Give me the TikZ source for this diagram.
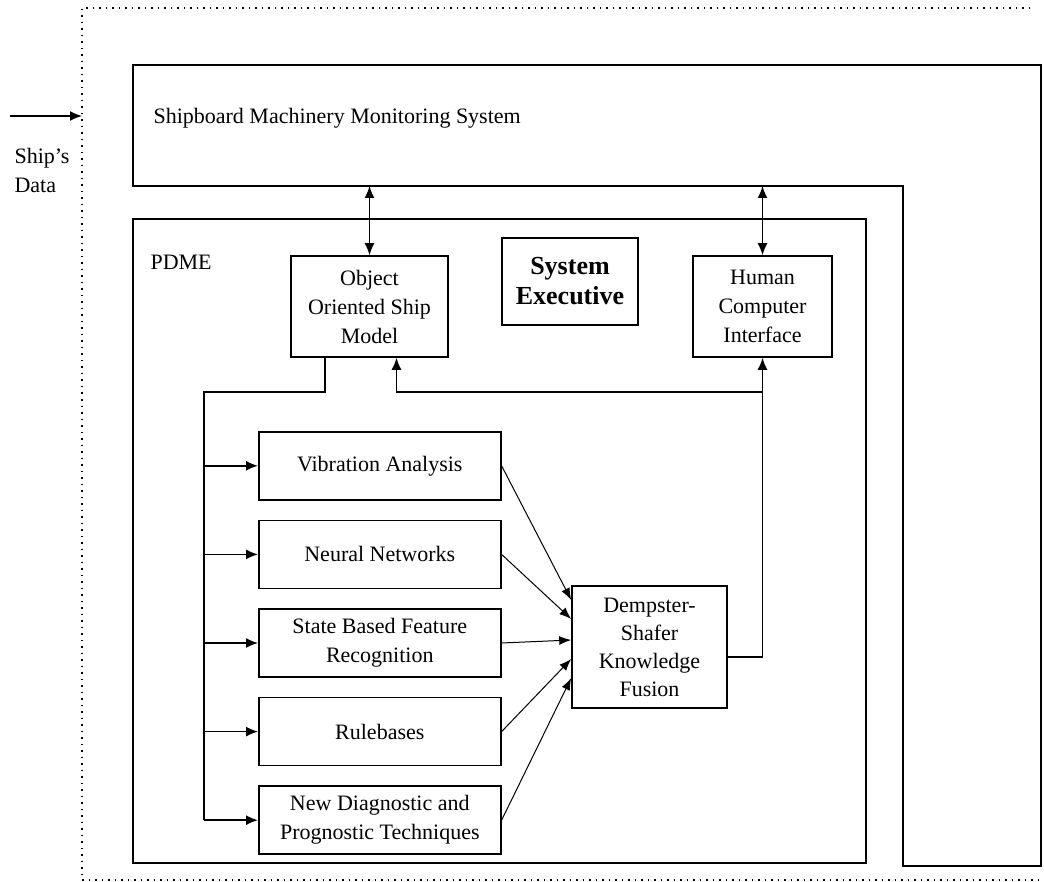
\documentclass[tikz,border=0pt]{standalone}
\usepackage{fontspec}
\setmainfont{Liberation Serif}
\usetikzlibrary{arrows.meta,positioning}

\begin{document}
\begin{tikzpicture}[x=1pt,y=-1pt,node distance=19pt,every node/.style={font=\fontsize{22}{29}\selectfont,align=center}]
    \tikzset{box/.style={draw,line width=1.6pt,inner sep=0pt},
      tech/.style={box,minimum width=242pt,minimum height=68pt},
      wire/.style={line width=1.5pt},
      link/.style={wire,-{Latex[length=12pt,width=10pt]}},
      dlink/.style={wire,{Latex[length=12pt,width=10pt]}-{Latex[length=12pt,width=10pt]}},
      fan/.style={line width=1pt,-{Latex[length=12pt,width=9pt]}}}
    \useasboundingbox (0,0) rectangle (1044,882);
    % outer frame and monitoring system
    \draw[line width=1.3pt,dash pattern=on 1.5pt off 5pt] (1030,8) -- (82,8) -- (82,880) -- (1044,880);
    \draw[line width=1.6pt] (133,65) -- (1041,65) -- (1041,866) -- (903,866) -- (903,186) -- (133,186) -- cycle;
    \coordinate (smmsbot) at (133,186);
    \node[anchor=base west] (smms) at (150,124) {Shipboard Machinery Monitoring System};
    \coordinate (feed) at (10,116);
    \coordinate (edge) at (82,116);
    \draw[link] (feed) -- (edge);
    \node[anchor=west,align=left] (shipdata) at (11,170) {Ship's\\Data};
    % PDME
    \draw[line width=1.6pt] (133,219) rectangle (866,863);
    \node[anchor=base west] (pdme) at (147,270) {PDME};
    \node[box,minimum width=157pt,minimum height=101pt] (oosm) at (369.5,306.5) {Object\\Oriented Ship\\Model};
    \node[box,minimum width=136pt,minimum height=87pt,font=\fontsize{26}{30}\selectfont\bfseries] (sysexec) at (570,281.5) {System\\Executive};
    \node[box,minimum width=139pt,minimum height=101pt] (hci) at (762.5,306.5) {Human\\Computer\\Interface};
    \node[tech,anchor=north west] (vib) at (258,431) {Vibration Analysis};
    \node[tech,below=of vib] (neural) {Neural Networks};
    \node[tech,below=of neural] (state) {State Based Feature\\Recognition};
    \node[tech,below=of state] (rules) {Rulebases};
    \node[tech,below=of rules] (newdiag) {New Diagnostic and\\Prognostic Techniques};
    \node[box,minimum width=155pt,minimum height=122pt,font=\fontsize{22}{28}\selectfont] (ds) at (649.5,647) {Dempster-\\Shafer\\Knowledge\\Fusion};
    % connections
    \draw[dlink] (oosm.north |- smmsbot) -- (oosm.north);
    \draw[dlink] (hci.north |- smmsbot) -- (hci.north);
    \coordinate (bus) at (204,392);
    \draw[wire] ([xshift=35pt]oosm.south west) |- (bus) -- (bus |- newdiag.west);
    \foreach \t in {vib,neural,state,rules,newdiag}{\draw[link] (bus |- \t.west) -- (\t.west);}
    \foreach \t/\y in {vib/47,neural/28,state/7,rules/-12,newdiag/-31}{\draw[fan] (\t.east) -- ([yshift=\y pt]ds.west);}
    \draw[link] ([yshift=-10pt]ds.east) -| (hci.south);
    \draw[link] (hci.south |- bus) -| ([xshift=27pt]oosm.south);
  \end{tikzpicture}
\end{document}
